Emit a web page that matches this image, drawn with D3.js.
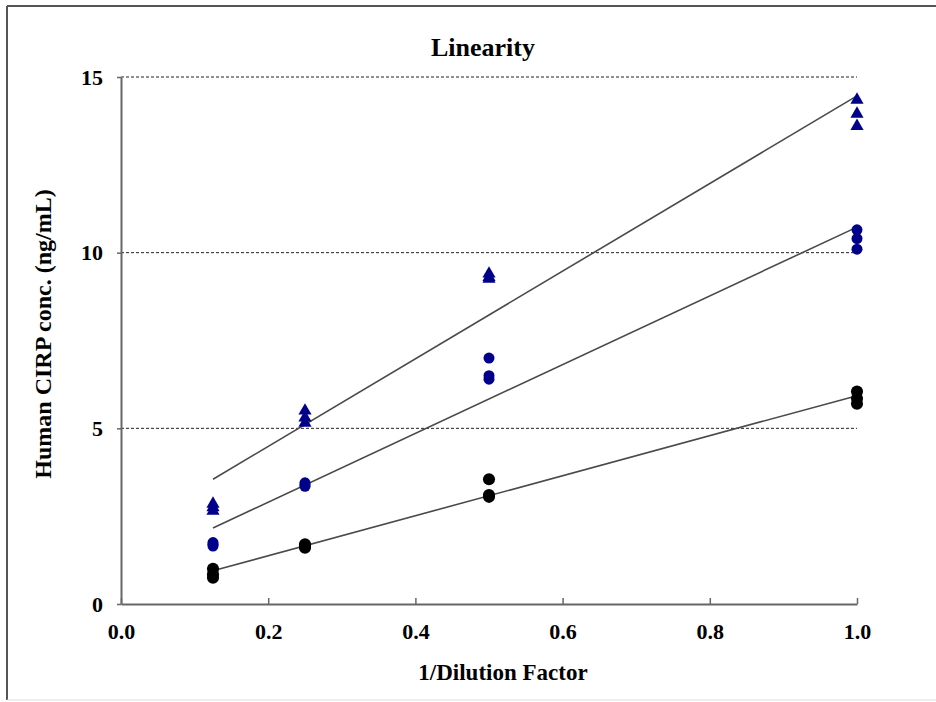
<!DOCTYPE html>
<html>
<head>
<meta charset="utf-8">
<script src="https://cdn.jsdelivr.net/npm/d3@7"></script>
<style>
  body { margin: 0; background: #fff; }
  text { font-family: "Liberation Serif", "Times New Roman", serif; font-weight: bold; fill: #000; }
</style>
</head>
<body>
<div id="chart"></div>
<script>
// dilution levels (1/dilution factor)
var dilutions = [0.125, 0.25, 0.5, 1.0];

// three replicate readings per dilution, per sample
var highSample = [[2.85, 2.75, 2.65], [5.5, 5.3, 5.15], [9.4, 9.3, 9.25], [14.35, 13.95, 13.6]];
var midSample = [[1.75, 1.7, 1.65], [3.45, 3.4, 3.35], [7.0, 6.5, 6.4], [10.65, 10.4, 10.1]];
var lowSample = [[1.0, 0.85, 0.75], [1.7, 1.65, 1.6], [3.55, 3.1, 3.05], [6.05, 5.85, 5.7]];

var xTicks = [0.0, 0.2, 0.4, 0.6, 0.8, 1.0];
var yTicks = [0, 5, 10, 15];

function drawChart() {
    var width = 936, height = 702,
        plotLeft = 121, plotRight = 857, plotTop = 77, plotBottom = 604;

    var svg = d3.select("#chart").append("svg")
        .attr("width", width).attr("height", height);

    // outer frame
    svg.append("line").attr("x1", 7).attr("y1", 6).attr("x2", width).attr("y2", 6)
        .style("stroke", "#555").style("stroke-width", 2);
    svg.append("line").attr("x1", 7).attr("y1", 6).attr("x2", 7).attr("y2", 700)
        .style("stroke", "#555").style("stroke-width", 2);
    svg.append("line").attr("x1", 7).attr("y1", 700).attr("x2", width).attr("y2", 700)
        .style("stroke", "#ddd").style("stroke-width", 1);

    var x = d3.scaleLinear().domain([0, 1]).range([plotLeft, plotRight]);
    var y = d3.scaleLinear().domain([0, 15]).range([plotBottom, plotTop]);

    // dashed gridlines
    svg.append("g").selectAll("line")
        .data(yTicks.filter(function (d) { return d > 0; }))
        .enter().append("line")
        .attr("x1", plotLeft).attr("x2", plotRight)
        .attr("y1", function (d) { return y(d); }).attr("y2", function (d) { return y(d); })
        .style("stroke", "#222").style("stroke-width", 1).style("stroke-dasharray", "3,2");

    // axes
    var xAxis = svg.append("g").attr("transform", "translate(0," + plotBottom + ")")
        .call(d3.axisBottom(x).tickValues(xTicks).tickSizeInner(-6).tickSizeOuter(0)
            .tickPadding(19).tickFormat(d3.format(".1f")));
    var yAxis = svg.append("g").attr("transform", "translate(" + plotLeft + ",0)")
        .call(d3.axisLeft(y).tickValues(yTicks).tickSizeInner(4).tickSizeOuter(0)
            .tickPadding(14).tickFormat(d3.format("d")));

    [xAxis, yAxis].forEach(function (a) {
        a.select(".domain").style("stroke", "#666").style("stroke-width", 2);
        a.selectAll(".tick line").style("stroke", "#666").style("stroke-width", 1.5);
        a.selectAll("text").style("font-family", "Liberation Serif").style("font-weight", "bold")
            .style("font-size", "22px").style("fill", "#000");
    });

    // regression line for each sample
    function fit(rows) {
        var pts = [];
        rows.forEach(function (r, i) {
            r.forEach(function (v) { pts.push([dilutions[i], v]); });
        });
        var mx = d3.mean(pts, function (p) { return p[0]; }),
            my = d3.mean(pts, function (p) { return p[1]; }),
            sxy = d3.sum(pts, function (p) { return (p[0] - mx) * (p[1] - my); }),
            sxx = d3.sum(pts, function (p) { return (p[0] - mx) * (p[0] - mx); }),
            b = sxy / sxx, a = my - b * mx;
        var x0 = d3.min(dilutions), x1 = d3.max(dilutions);
        return [[x0, a + b * x0], [x1, a + b * x1]];
    }

    var series = [
        { rows: highSample, shape: d3.symbolTriangle, color: "#00008b", size: 75 },
        { rows: midSample, shape: d3.symbolCircle, color: "#00008b", size: 95 },
        { rows: lowSample, shape: d3.symbolCircle, color: "#000", size: 115 }
    ];

    var line = d3.line()
        .x(function (d) { return x(d[0]); })
        .y(function (d) { return y(d[1]); });

    series.forEach(function (s) {
        svg.append("path").datum(fit(s.rows)).attr("d", line)
            .style("fill", "none").style("stroke", "#4a4a4a").style("stroke-width", 1.6);
    });

    series.forEach(function (s) {
        var pts = [];
        s.rows.forEach(function (r, i) {
            r.forEach(function (v) { pts.push([dilutions[i], v]); });
        });
        svg.append("g").selectAll("path").data(pts).enter().append("path")
            .attr("d", d3.symbol().type(s.shape).size(s.size))
            .attr("transform", function (d) { return "translate(" + x(d[0]) + "," + y(d[1]) + ")"; })
            .style("fill", s.color);
    });

    // titles
    svg.append("text").attr("x", 483).attr("y", 56).attr("text-anchor", "middle")
        .style("font-size", "26px").text("Linearity");
    svg.append("text").attr("x", 503).attr("y", 680).attr("text-anchor", "middle")
        .style("font-size", "23px").text("1/Dilution Factor");
    svg.append("text").attr("transform", "translate(51,334) rotate(-90)").attr("text-anchor", "middle")
        .style("font-size", "24px").text("Human CIRP conc. (ng/mL)");
}

drawChart();
</script>
</body>
</html>
